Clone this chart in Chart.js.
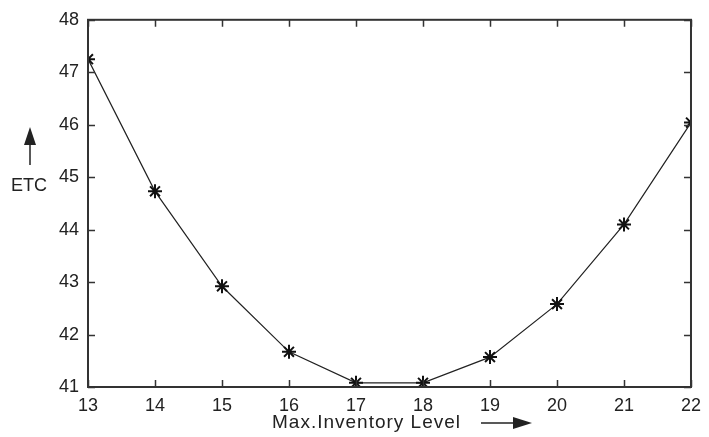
<!DOCTYPE html>
<html>
<head>
<meta charset="utf-8">
<script src="https://cdn.jsdelivr.net/npm/chart.js@4/dist/chart.umd.min.js"></script>
<style>
  html, body { margin: 0; padding: 0; background: #fff; }
  #wrap { width: 709px; height: 437px; }
</style>
</head>
<body>
<div id="wrap"><canvas id="etcChart" width="709" height="437"></canvas></div>
<script>
// max inventory level vs expected total cost
const levels = [13, 14, 15, 16, 17, 18, 19, 20, 21, 22];
const etc = [47.25, 44.73, 42.92, 41.67, 41.08, 41.08, 41.57, 42.58, 44.1, 46.04];
const xTicks = [13, 14, 15, 16, 17, 18, 19, 20, 21, 22];
const yTicks = [41, 42, 43, 44, 45, 46, 47, 48];

const FONT = '"Liberation Sans", Arial, sans-serif';
const INK = "#222";

// frame, inward ticks on all four sides and the arrow labels
const framePlugin = {
  id: "frame",
  afterDraw(chart) {
    const ctx = chart.ctx;
    const a = chart.chartArea;
    const xs = chart.scales.x;
    const ys = chart.scales.y;
    ctx.save();
    ctx.strokeStyle = "#333";
    ctx.lineWidth = 2;
    ctx.strokeRect(a.left, a.top, a.right - a.left, a.bottom - a.top);

    ctx.lineWidth = 1.5;
    ctx.beginPath();
    xTicks.forEach((v) => {
      const px = Math.round(xs.getPixelForValue(v)) + 0.5;
      ctx.moveTo(px, a.bottom);
      ctx.lineTo(px, a.bottom - 7);
      ctx.moveTo(px, a.top);
      ctx.lineTo(px, a.top + 7);
    });
    yTicks.forEach((v) => {
      const py = Math.round(ys.getPixelForValue(v)) + 0.5;
      ctx.moveTo(a.left, py);
      ctx.lineTo(a.left + 7, py);
      ctx.moveTo(a.right, py);
      ctx.lineTo(a.right - 7, py);
    });
    ctx.stroke();

    // x axis title with arrow
    ctx.fillStyle = INK;
    ctx.strokeStyle = INK;
    ctx.font = "19px " + FONT;
    ctx.letterSpacing = "1px";
    ctx.textAlign = "left";
    ctx.textBaseline = "alphabetic";
    ctx.fillText("Max.Inventory Level", 272, 428);
    ctx.lineWidth = 1.5;
    ctx.beginPath();
    ctx.moveTo(481, 423);
    ctx.lineTo(516, 423);
    ctx.stroke();
    ctx.beginPath();
    ctx.moveTo(532, 423);
    ctx.lineTo(513, 417);
    ctx.lineTo(513, 429);
    ctx.closePath();
    ctx.fill();

    // y axis title with arrow
    ctx.letterSpacing = "0px";
    ctx.font = "18px " + FONT;
    ctx.textAlign = "center";
    ctx.fillText("ETC", 29, 191);
    ctx.beginPath();
    ctx.moveTo(30, 165);
    ctx.lineTo(30, 140);
    ctx.stroke();
    ctx.beginPath();
    ctx.moveTo(30, 127);
    ctx.lineTo(24, 145);
    ctx.lineTo(36, 145);
    ctx.closePath();
    ctx.fill();
    ctx.restore();
  },
};

const ctx = document.getElementById("etcChart").getContext("2d");

const chart = new Chart(ctx, {
  type: "line",
  data: {
    datasets: [
      {
        label: "ETC",
        data: levels.map((x, i) => ({ x: x, y: etc[i] })),
        borderColor: INK,
        borderWidth: 1.2,
        pointStyle: "star",
        pointRadius: 7,
        pointBorderWidth: 2,
        pointBorderColor: "#111",
        pointBackgroundColor: "#111",
        tension: 0,
        fill: false,
      },
    ],
  },
  options: {
    responsive: false,
    animation: false,
    events: [],
    layout: { padding: { top: 19, right: 11, left: 0, bottom: 0 } },
    plugins: {
      legend: { display: false },
      tooltip: { enabled: false },
    },
    scales: {
      x: {
        type: "linear",
        min: 13,
        max: 22,
        afterFit: (scale) => { scale.height = 50; },
        afterBuildTicks: (scale) => { scale.ticks = xTicks.map((v) => ({ value: v })); },
        grid: { display: false, drawTicks: false },
        border: { display: false },
        ticks: {
          color: INK,
          font: { family: FONT, size: 18 },
          padding: 8,
          maxRotation: 0,
          autoSkip: false,
        },
      },
      y: {
        type: "linear",
        min: 41,
        max: 48,
        afterFit: (scale) => { scale.width = 88; },
        afterBuildTicks: (scale) => { scale.ticks = yTicks.map((v) => ({ value: v })); },
        grid: { display: false, drawTicks: false },
        border: { display: false },
        ticks: {
          color: INK,
          font: { family: FONT, size: 18 },
          padding: 9,
          autoSkip: false,
        },
      },
    },
  },
  plugins: [framePlugin],
});
</script>
</body>
</html>
